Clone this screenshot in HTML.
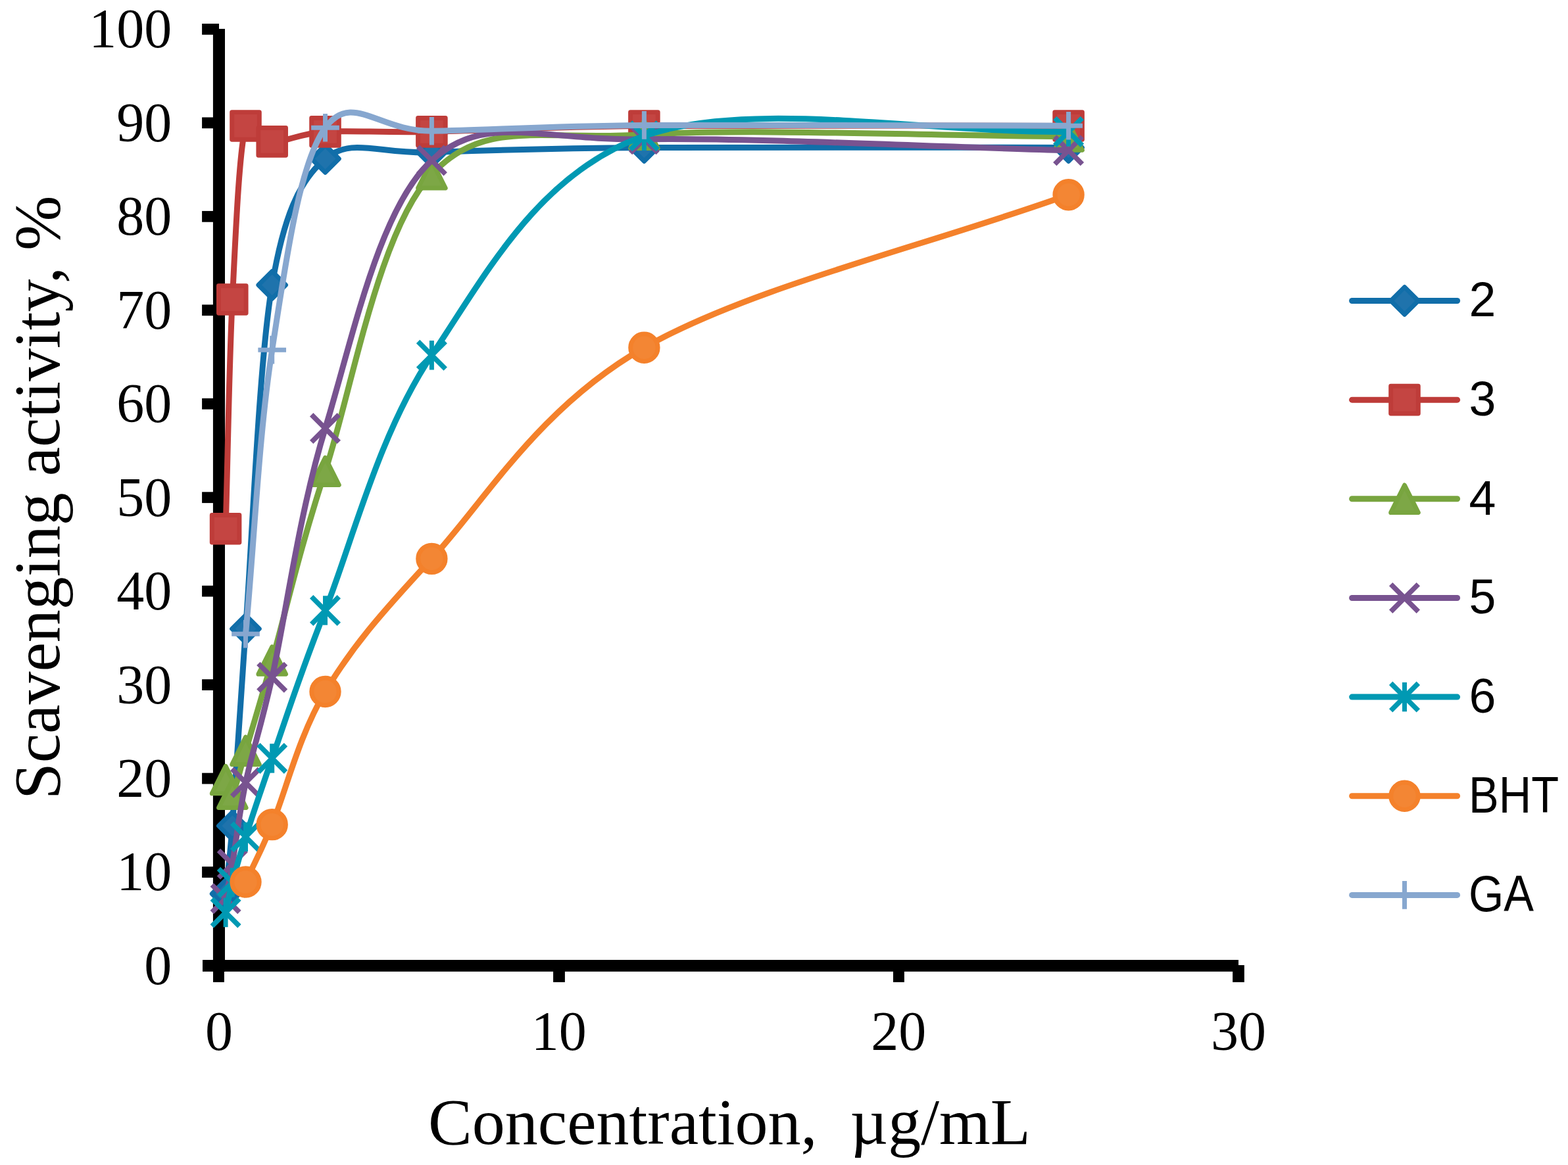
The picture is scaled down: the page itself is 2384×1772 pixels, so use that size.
<!DOCTYPE html>
<html lang="en"><head><meta charset="utf-8"><title>Scavenging activity vs concentration</title>
<style>html,body{margin:0;padding:0;background:#ffffff}body{width:2384px;height:1772px;overflow:hidden}svg{display:block}.s{font-family:"Liberation Serif","DejaVu Serif",serif;fill:#000}.l{font-family:"Liberation Sans","DejaVu Sans",sans-serif;fill:#000}</style></head><body>
<svg width="2384" height="1772" viewBox="0 0 2384 1772">
<rect width="2384" height="1772" fill="#ffffff"/>
<g fill="#000">
<rect x="323.9" y="43.9" width="18.1" height="1433.9"/>
<rect x="308" y="1460" width="1575" height="17.8"/>
<rect x="307.1" y="1318.14" width="25.9" height="16.8"/>
<rect x="307.1" y="1175.68" width="25.9" height="16.8"/>
<rect x="307.1" y="1033.22" width="25.9" height="16.8"/>
<rect x="307.1" y="890.76" width="25.9" height="16.8"/>
<rect x="307.1" y="748.3" width="25.9" height="16.8"/>
<rect x="307.1" y="605.84" width="25.9" height="16.8"/>
<rect x="307.1" y="463.38" width="25.9" height="16.8"/>
<rect x="307.1" y="320.92" width="25.9" height="16.8"/>
<rect x="307.1" y="178.46" width="25.9" height="16.8"/>
<rect x="307.1" y="36" width="25.9" height="16.8"/>
<rect x="324" y="1468" width="16.9" height="25.9"/>
<rect x="841.1" y="1468" width="17.8" height="25.9"/>
<rect x="1358" y="1468" width="16.9" height="25.9"/>
<rect x="1874.1" y="1468" width="17.75" height="25.9"/>
</g>
<g class="s" font-size="84">
<text x="261.3" y="1496.9" text-anchor="end">0</text>
<text x="261.3" y="1354.44" text-anchor="end">10</text>
<text x="261.3" y="1211.98" text-anchor="end">20</text>
<text x="261.3" y="1069.52" text-anchor="end">30</text>
<text x="261.3" y="927.06" text-anchor="end">40</text>
<text x="261.3" y="784.6" text-anchor="end">50</text>
<text x="261.3" y="642.14" text-anchor="end">60</text>
<text x="261.3" y="499.68" text-anchor="end">70</text>
<text x="261.3" y="357.22" text-anchor="end">80</text>
<text x="261.3" y="214.76" text-anchor="end">90</text>
<text x="261.3" y="72.3" text-anchor="end">100</text>
<text x="333" y="1596.5" text-anchor="middle">0</text>
<text x="849.67" y="1596.5" text-anchor="middle">10</text>
<text x="1366.33" y="1596.5" text-anchor="middle">20</text>
<text x="1883" y="1596.5" text-anchor="middle">30</text>
</g>
<g class="s" font-size="100">
<text x="1109" y="1740.3" text-anchor="middle" xml:space="preserve" style="white-space:pre">Concentration,  µg/mL</text>
<text transform="translate(89.6 756.8) rotate(-90)" text-anchor="middle">Scavenging activity, %</text>
</g>
<g>
<path d="M343.1 1359.45C346.5 1325.02 349.4 1307.91 353.3 1256.16C358.37 1188.99 363.43 1093.55 373.5 956.43C383.57 819.31 393.53 552.6 413.7 433.46C431.07 330.81 454.05 275.19 494.5 241.56C534.95 207.94 575.58 234.58 656.4 231.73C737.22 228.89 818.03 225.68 979.4 224.47C1140.77 223.26 1409.53 224.47 1624.6 224.47" fill="none" stroke="#116EA9" stroke-width="9" stroke-linecap="round" stroke-linejoin="round"/>
<polygon points="343.1,1338.62 363.93,1359.45 343.1,1380.28 322.27,1359.45" fill="#1F73AC" stroke="#116EA9" stroke-width="6.9" stroke-linejoin="round"/>
<polygon points="353.3,1235.33 374.13,1256.16 353.3,1276.99 332.47,1256.16" fill="#1F73AC" stroke="#116EA9" stroke-width="6.9" stroke-linejoin="round"/>
<polygon points="373.5,935.6 394.33,956.43 373.5,977.26 352.67,956.43" fill="#1F73AC" stroke="#116EA9" stroke-width="6.9" stroke-linejoin="round"/>
<polygon points="413.7,412.63 434.53,433.46 413.7,454.29 392.87,433.46" fill="#1F73AC" stroke="#116EA9" stroke-width="6.9" stroke-linejoin="round"/>
<polygon points="494.5,220.73 515.33,241.56 494.5,262.39 473.67,241.56" fill="#1F73AC" stroke="#116EA9" stroke-width="6.9" stroke-linejoin="round"/>
<polygon points="656.4,210.9 677.23,231.73 656.4,252.56 635.57,231.73" fill="#1F73AC" stroke="#116EA9" stroke-width="6.9" stroke-linejoin="round"/>
<polygon points="979.4,203.64 1000.23,224.47 979.4,245.3 958.57,224.47" fill="#1F73AC" stroke="#116EA9" stroke-width="6.9" stroke-linejoin="round"/>
<polygon points="1624.6,203.64 1645.43,224.47 1624.6,245.3 1603.77,224.47" fill="#1F73AC" stroke="#116EA9" stroke-width="6.9" stroke-linejoin="round"/>
</g>
<g>
<path d="M343.1 804.28C346.5 688.03 348.23 557.68 353.3 455.54C358.37 353.4 363.43 231.45 373.5 191.42C379.2 168.73 393.53 213.86 413.7 215.35C433.87 216.85 454.05 202.89 494.5 200.39C534.95 197.9 575.58 201.89 656.4 200.39C737.22 198.9 818.03 192.91 979.4 191.42C1140.77 189.92 1409.53 191.42 1624.6 191.42" fill="none" stroke="#BE3C39" stroke-width="9" stroke-linecap="round" stroke-linejoin="round"/>
<rect x="322.27" y="783.45" width="41.66" height="41.66" fill="#C44542" stroke="#BE3C39" stroke-width="6.9" stroke-linejoin="round"/>
<rect x="332.47" y="434.71" width="41.66" height="41.66" fill="#C44542" stroke="#BE3C39" stroke-width="6.9" stroke-linejoin="round"/>
<rect x="352.67" y="170.59" width="41.66" height="41.66" fill="#C44542" stroke="#BE3C39" stroke-width="6.9" stroke-linejoin="round"/>
<rect x="392.87" y="194.52" width="41.66" height="41.66" fill="#C44542" stroke="#BE3C39" stroke-width="6.9" stroke-linejoin="round"/>
<rect x="473.67" y="179.56" width="41.66" height="41.66" fill="#C44542" stroke="#BE3C39" stroke-width="6.9" stroke-linejoin="round"/>
<rect x="635.57" y="179.56" width="41.66" height="41.66" fill="#C44542" stroke="#BE3C39" stroke-width="6.9" stroke-linejoin="round"/>
<rect x="958.57" y="170.59" width="41.66" height="41.66" fill="#C44542" stroke="#BE3C39" stroke-width="6.9" stroke-linejoin="round"/>
<rect x="1603.77" y="170.59" width="41.66" height="41.66" fill="#C44542" stroke="#BE3C39" stroke-width="6.9" stroke-linejoin="round"/>
</g>
<g>
<path d="M343.1 1186.07C346.5 1193.29 348.23 1215.09 353.3 1207.73C358.37 1200.37 363.69 1174.91 373.5 1141.91C383.57 1108.05 394.11 1073.39 413.7 1004.58C433.87 933.73 454.05 840.04 494.5 716.81C534.95 593.58 575.58 350.57 656.4 265.21C737.22 179.86 818.03 214.28 979.4 204.67C1140.77 195.05 1409.53 206.57 1624.6 207.52" fill="none" stroke="#78A53F" stroke-width="9" stroke-linecap="round" stroke-linejoin="round"/>
<polygon points="343.1,1165.24 363.93,1206.9 322.27,1206.9" fill="#7DA746" stroke="#78A53F" stroke-width="6.9" stroke-linejoin="round"/>
<polygon points="353.3,1186.9 374.13,1228.56 332.47,1228.56" fill="#7DA746" stroke="#78A53F" stroke-width="6.9" stroke-linejoin="round"/>
<polygon points="373.5,1121.08 394.33,1162.74 352.67,1162.74" fill="#7DA746" stroke="#78A53F" stroke-width="6.9" stroke-linejoin="round"/>
<polygon points="413.7,983.75 434.53,1025.41 392.87,1025.41" fill="#7DA746" stroke="#78A53F" stroke-width="6.9" stroke-linejoin="round"/>
<polygon points="494.5,695.98 515.33,737.64 473.67,737.64" fill="#7DA746" stroke="#78A53F" stroke-width="6.9" stroke-linejoin="round"/>
<polygon points="656.4,244.38 677.23,286.04 635.57,286.04" fill="#7DA746" stroke="#78A53F" stroke-width="6.9" stroke-linejoin="round"/>
<polygon points="979.4,183.84 1000.23,225.5 958.57,225.5" fill="#7DA746" stroke="#78A53F" stroke-width="6.9" stroke-linejoin="round"/>
<polygon points="1624.6,186.69 1645.43,228.35 1603.77,228.35" fill="#7DA746" stroke="#78A53F" stroke-width="6.9" stroke-linejoin="round"/>
</g>
<g>
<path d="M343.1 1366.71C346.5 1349.24 348.76 1340.6 353.3 1314.29C358.37 1284.89 363.43 1237.69 373.5 1190.35C383.57 1143 395.61 1110.76 413.7 1030.22C433.87 940.43 454.05 782.6 494.5 651.56C534.95 520.53 575.58 317.28 656.4 243.99C737.22 170.69 818.03 214.33 979.4 211.79C1140.77 209.25 1409.53 223.09 1624.6 228.74" fill="none" stroke="#785390" stroke-width="9" stroke-linecap="round" stroke-linejoin="round"/>
<path d="M322.27 1345.88L363.93 1387.54M322.27 1387.54L363.93 1345.88" fill="none" stroke="#785390" stroke-width="7.6"/>
<path d="M332.47 1293.46L374.13 1335.12M332.47 1335.12L374.13 1293.46" fill="none" stroke="#785390" stroke-width="7.6"/>
<path d="M352.67 1169.52L394.33 1211.18M352.67 1211.18L394.33 1169.52" fill="none" stroke="#785390" stroke-width="7.6"/>
<path d="M392.87 1009.39L434.53 1051.05M392.87 1051.05L434.53 1009.39" fill="none" stroke="#785390" stroke-width="7.6"/>
<path d="M473.67 630.73L515.33 672.39M473.67 672.39L515.33 630.73" fill="none" stroke="#785390" stroke-width="7.6"/>
<path d="M635.57 223.16L677.23 264.82M635.57 264.82L677.23 223.16" fill="none" stroke="#785390" stroke-width="7.6"/>
<path d="M958.57 190.96L1000.23 232.62M958.57 232.62L1000.23 190.96" fill="none" stroke="#785390" stroke-width="7.6"/>
<path d="M1603.77 207.91L1645.43 249.57M1603.77 249.57L1645.43 207.91" fill="none" stroke="#785390" stroke-width="7.6"/>
</g>
<g>
<path d="M343.1 1387.94C346.5 1372.7 348.23 1361.37 353.3 1342.21C358.37 1323.05 363.43 1304.43 373.5 1272.98C383.57 1241.52 393.53 1210.86 413.7 1153.45C433.87 1096.04 454.05 1030.7 494.5 928.51C534.95 826.32 575.58 660.59 656.4 540.3C737.22 420.02 818.03 263.46 979.4 206.8C1140.77 150.15 1409.53 202.53 1624.6 200.39" fill="none" stroke="#0099B3" stroke-width="9" stroke-linecap="round" stroke-linejoin="round"/>
<path d="M322.27 1367.11L363.93 1408.77M322.27 1408.77L363.93 1367.11" fill="none" stroke="#0099B3" stroke-width="7.6"/><path d="M343.1 1365.71L343.1 1410.17" fill="none" stroke="#0099B3" stroke-width="7"/>
<path d="M332.47 1321.38L374.13 1363.04M332.47 1363.04L374.13 1321.38" fill="none" stroke="#0099B3" stroke-width="7.6"/><path d="M353.3 1319.98L353.3 1364.44" fill="none" stroke="#0099B3" stroke-width="7"/>
<path d="M352.67 1252.15L394.33 1293.81M352.67 1293.81L394.33 1252.15" fill="none" stroke="#0099B3" stroke-width="7.6"/><path d="M373.5 1250.75L373.5 1295.21" fill="none" stroke="#0099B3" stroke-width="7"/>
<path d="M392.87 1132.62L434.53 1174.28M392.87 1174.28L434.53 1132.62" fill="none" stroke="#0099B3" stroke-width="7.6"/><path d="M413.7 1131.22L413.7 1175.68" fill="none" stroke="#0099B3" stroke-width="7"/>
<path d="M473.67 907.68L515.33 949.34M473.67 949.34L515.33 907.68" fill="none" stroke="#0099B3" stroke-width="7.6"/><path d="M494.5 906.28L494.5 950.74" fill="none" stroke="#0099B3" stroke-width="7"/>
<path d="M635.57 519.47L677.23 561.13M635.57 561.13L677.23 519.47" fill="none" stroke="#0099B3" stroke-width="7.6"/><path d="M656.4 518.07L656.4 562.53" fill="none" stroke="#0099B3" stroke-width="7"/>
<path d="M958.57 185.97L1000.23 227.63M958.57 227.63L1000.23 185.97" fill="none" stroke="#0099B3" stroke-width="7.6"/><path d="M979.4 184.57L979.4 229.03" fill="none" stroke="#0099B3" stroke-width="7"/>
<path d="M1603.77 179.56L1645.43 221.22M1603.77 221.22L1645.43 179.56" fill="none" stroke="#0099B3" stroke-width="7.6"/><path d="M1624.6 178.16L1624.6 222.62" fill="none" stroke="#0099B3" stroke-width="7"/>
</g>
<g>
<path d="M373.5 1341.5C386.9 1312.39 395.16 1298.52 413.7 1254.17C433.87 1205.92 454.05 1119.4 494.5 1052.02C534.95 984.64 575.58 937.08 656.4 849.87C737.22 762.66 818.03 621.03 979.4 528.76C1140.77 436.5 1409.53 373.77 1624.6 296.27" fill="none" stroke="#F4812B" stroke-width="9" stroke-linecap="round" stroke-linejoin="round"/>
<circle cx="373.5" cy="1341.5" r="20.73" fill="#F38634" stroke="#F4812B" stroke-width="6.9"/>
<circle cx="413.7" cy="1254.17" r="20.73" fill="#F38634" stroke="#F4812B" stroke-width="6.9"/>
<circle cx="494.5" cy="1052.02" r="20.73" fill="#F38634" stroke="#F4812B" stroke-width="6.9"/>
<circle cx="656.4" cy="849.87" r="20.73" fill="#F38634" stroke="#F4812B" stroke-width="6.9"/>
<circle cx="979.4" cy="528.76" r="20.73" fill="#F38634" stroke="#F4812B" stroke-width="6.9"/>
<circle cx="1624.6" cy="296.27" r="20.73" fill="#F38634" stroke="#F4812B" stroke-width="6.9"/>
</g>
<g>
<path d="M373.5 964.26C386.9 820.24 393.53 660.52 413.7 532.18C433.87 403.85 454.05 249.76 494.5 194.27C534.95 138.78 575.58 199.9 656.4 199.25C737.22 198.61 818.03 191.75 979.4 190.42C1140.77 189.09 1409.53 190.99 1624.6 191.28" fill="none" stroke="#87A7CF" stroke-width="9" stroke-linecap="round" stroke-linejoin="round"/>
<path d="M352.17 964.26L394.83 964.26M373.5 942.93L373.5 985.59" fill="none" stroke="#87A7CF" stroke-width="7"/>
<path d="M392.37 532.18L435.03 532.18M413.7 510.85L413.7 553.51" fill="none" stroke="#87A7CF" stroke-width="7"/>
<path d="M473.17 194.27L515.83 194.27M494.5 172.94L494.5 215.6" fill="none" stroke="#87A7CF" stroke-width="7"/>
<path d="M635.07 199.25L677.73 199.25M656.4 177.92L656.4 220.58" fill="none" stroke="#87A7CF" stroke-width="7"/>
<path d="M958.07 190.42L1000.73 190.42M979.4 169.09L979.4 211.75" fill="none" stroke="#87A7CF" stroke-width="7"/>
<path d="M1603.27 191.28L1645.93 191.28M1624.6 169.95L1624.6 212.61" fill="none" stroke="#87A7CF" stroke-width="7"/>
</g>
<g>
<path d="M2055.6 457.5L2215.6 457.5" fill="none" stroke="#116EA9" stroke-width="9" stroke-linecap="round"/>
<polygon points="2135.5,436.67 2156.33,457.5 2135.5,478.33 2114.67,457.5" fill="#1F73AC" stroke="#116EA9" stroke-width="6.9" stroke-linejoin="round"/>
<text class="l" font-size="75" transform="translate(2233.6 481.2) scale(0.98 1)">2</text>
</g>
<g>
<path d="M2055.6 608.15L2215.6 608.15" fill="none" stroke="#BE3C39" stroke-width="9" stroke-linecap="round"/>
<rect x="2114.67" y="587.32" width="41.66" height="41.66" fill="#C44542" stroke="#BE3C39" stroke-width="6.9" stroke-linejoin="round"/>
<text class="l" font-size="75" transform="translate(2233.6 631.85) scale(0.98 1)">3</text>
</g>
<g>
<path d="M2055.6 758.8L2215.6 758.8" fill="none" stroke="#78A53F" stroke-width="9" stroke-linecap="round"/>
<polygon points="2135.5,737.97 2156.33,779.63 2114.67,779.63" fill="#7DA746" stroke="#78A53F" stroke-width="6.9" stroke-linejoin="round"/>
<text class="l" font-size="75" transform="translate(2233.6 782.5) scale(0.98 1)">4</text>
</g>
<g>
<path d="M2055.6 909.45L2215.6 909.45" fill="none" stroke="#785390" stroke-width="9" stroke-linecap="round"/>
<path d="M2114.67 888.62L2156.33 930.28M2114.67 930.28L2156.33 888.62" fill="none" stroke="#785390" stroke-width="7.6"/>
<text class="l" font-size="75" transform="translate(2233.6 933.15) scale(0.98 1)">5</text>
</g>
<g>
<path d="M2055.6 1060.1L2215.6 1060.1" fill="none" stroke="#0099B3" stroke-width="9" stroke-linecap="round"/>
<path d="M2114.67 1039.27L2156.33 1080.93M2114.67 1080.93L2156.33 1039.27" fill="none" stroke="#0099B3" stroke-width="7.6"/><path d="M2135.5 1037.87L2135.5 1082.33" fill="none" stroke="#0099B3" stroke-width="7"/>
<text class="l" font-size="75" transform="translate(2233.6 1083.8) scale(0.98 1)">6</text>
</g>
<g>
<path d="M2055.6 1210.75L2215.6 1210.75" fill="none" stroke="#F4812B" stroke-width="9" stroke-linecap="round"/>
<circle cx="2135.5" cy="1210.75" r="20.73" fill="#F38634" stroke="#F4812B" stroke-width="6.9"/>
<text class="l" font-size="77" transform="translate(2233 1235.55) scale(0.89 1)">BHT</text>
</g>
<g>
<path d="M2055.6 1361.4L2215.6 1361.4" fill="none" stroke="#87A7CF" stroke-width="9" stroke-linecap="round"/>
<path d="M2114.17 1361.4L2156.83 1361.4M2135.5 1340.07L2135.5 1382.73" fill="none" stroke="#87A7CF" stroke-width="7"/>
<text class="l" font-size="77" transform="translate(2233 1386.2) scale(0.89 1)">GA</text>
</g>
</svg></body></html>
